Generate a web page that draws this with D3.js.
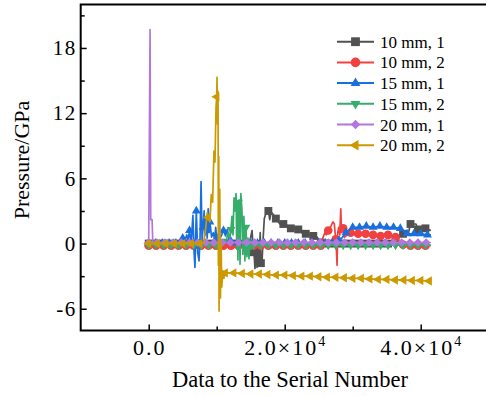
<!DOCTYPE html>
<html><head><meta charset="utf-8">
<script src="https://cdn.jsdelivr.net/npm/d3@7"></script>
<style>body{margin:0;background:#fff}svg{display:block}</style>
</head><body>
<svg id="c" width="486" height="396"></svg>
<script>
// ---------- data ----------
const seriesNames = ["10 mm, 1", "10 mm, 2", "15 mm, 1", "15 mm, 2", "20 mm, 1", "20 mm, 2"];
const seriesColors = ["#515151", "#F14040", "#1A6FDF", "#37AD6B", "#B177DE", "#CC9900"];
const markerSteps = [1100, 1100, 1000, 1100, 1200, 1250];

// base values at X = i*step (these carry the symbols)
const grayBase = [0.0,0.0,0.0,0.0,0.0,0.0,0.0,0.0,0.0,0.0,0.0,0.0,0.0,0.0,-0.8,-1.8,3.0,2.3,1.8,1.4,1.3,0.9,0.7,0.1,0.0,0.0,0.0,0.0,0.0,0.0,0.0,0.0,0.0,0.3,0.9,1.8,1.3,1.4];
const grayDetail = [[14900,0.3],[15200,1.2],[15500,-1.0],[15630,-2.3],[15800,-0.5],[15930,-2.2],[16100,0.2],[16250,-1.5],[16400,1.0],[16650,-2.0],[16800,0.2],[17000,2.3],[17250,2.8],[17400,3.0],[17800,2.2],[18000,2.9],[18300,2.7],[18500,2.5],[19300,1.8],[20300,1.7],[21600,1.4],[22500,1.0],[24750,0.6],[38200,1.0],[38900,1.8],[39300,1.8],[40200,1.5],[41500,1.2]];

const redBase = [-0.2,-0.2,-0.2,-0.2,-0.2,-0.2,-0.2,-0.2,-0.2,-0.2,-0.2,-0.2,-0.2,-0.2,-0.2,-0.2,-0.2,-0.2,-0.2,-0.2,-0.2,-0.2,-0.2,-0.2,1.2,0.4,1.4,1.0,0.9,0.9,0.8,0.7,0.8,0.6,-0.1,-0.2,-0.2,-0.2];
const redDetail = [[25600,0.5],[25900,1.0],[26100,0.8],[26800,1.6],[27100,2.0],[27300,1.8],[27600,-0.5],[27700,-2.0],[27800,1.0],[27950,1.5],[28100,0.8],[28250,3.2],[28350,1.0],[28800,0.6],[41500,-0.2]];

const blueBase = [0.05,0.05,0.05,0.05,0.05,0.5,1.2,3.0,1.5,2.0,0.5,1.2,0.3,0.05,0.05,0.05,0.05,0.05,0.05,0.05,0.05,0.05,0.05,0.05,0.05,0.05,0.05,0.05,0.3,1.0,1.5,1.5,1.6,1.5,1.6,1.5,1.5,1.4,0.9,0.9,0.9,0.8];
const blueDetail = [[4800,0.1],[5300,0.2],[5600,0.8],[5800,0.3],[6250,0.0],[6500,2.6],[6650,-0.5],[6800,-2.2],[6900,0.5],[7200,-0.8],[7400,-1.6],[7550,0.5],[7700,5.7],[7850,0.3],[8150,3.0],[8300,0.8],[8450,2.4],[8600,0.5],[8750,3.2],[8880,1.0],[9250,0.6],[9500,1.0],[9700,0.3],[9850,1.5],[10300,1.0],[10600,0.6],[11300,0.7],[11550,1.3],[11800,0.5],[28400,0.5],[41500,0.8]];

const greenBase = [-0.15,-0.15,-0.15,-0.15,-0.15,-0.15,-0.15,-0.15,-0.15,-0.15,0.2,1.3,3.8,1.5,-0.15,-0.15,-0.15,-0.15,-0.15,-0.15,-0.15,-0.15,-0.15,-0.15,-0.15,-0.15,-0.15,-0.15,-0.15,-0.15,-0.15,-0.15,-0.15,-0.15,-0.15,-0.15,-0.15,-0.15];
const greenDetail = [[11400,0.3],[11700,1.0],[11900,0.5],[12250,2.5],[12400,0.8],[12550,4.2],[12700,3.0],[12850,4.6],[12950,-0.5],[13050,3.5],[13120,-1.5],[13300,4.0],[13430,-1.9],[13550,4.6],[13720,3.0],[13850,-1.0],[14000,2.5],[14150,-1.6],[14450,-1.2],[14600,0.5],[14750,-1.4],[14900,0.3],[15050,-0.5],[15200,0.2],[41500,-0.15]];

const purpleBase = [0.1,0.1,0.1,0.1,0.1,0.1,0.1,0.1,0.1,0.1,0.1,0.1,0.1,0.1,0.1,0.1,0.1,0.1,0.1,0.1,0.1,0.1,0.1,0.1,0.1,0.1,0.1,0.1,0.1,0.1,0.1,0.1,0.1,0.1,0.1];
const purpleDetail = [[200,19.7],[300,2.2],[500,2.2],[600,0.1],[41500,0.1]];

const goldBase = [0,0,0,0,0,0,0,2.4,13.5,-2.7,-2.7,-2.75,-2.8,-2.8,-2.85,-2.9,-2.9,-2.95,-3.0,-3.0,-3.05,-3.1,-3.1,-3.15,-3.2,-3.2,-3.25,-3.3,-3.3,-3.35,-3.35,-3.4,-3.4,-3.45];
const goldDetail = [[8100,0.1],[8400,1.5],[8600,2.8],[9000,2.0],[9200,4.5],[9400,3.8],[9600,8.5],[9750,7.5],[9900,12.5],[10050,15.3],[10120,11],[10200,14],[10250,-2],[10300,8],[10350,-6.2],[10450,5],[10550,-5],[10650,0],[10750,-4],[10900,-2.5],[11050,-3.2],[41500,-3.45]];

const yMajorTicks = [-6, 0, 6, 12, 18];
const yMinorTicks = [-3, 3, 9, 15, 21];
const xMajorTicks = [0, 20000, 40000];
const xMinorTicks = [10000, 30000];
const xTickMantissa = ["0.0", "2.0", "4.0"];
const xTickExponent = [null, "4", "4"];

// ---------- layout ----------
const svg = d3.select("#c");
const FONT = "'Liberation Serif','Times New Roman',serif";
const x = d3.scaleLinear().domain([-10000, 50000]).range([80.7, 488.7]);
const y = d3.scaleLinear().domain([-8, 22]).range([330.5, 4.5]);

svg.append("rect").attr("width", 486).attr("height", 396).attr("fill", "#fff");

const bases = [grayBase, redBase, blueBase, greenBase, purpleBase, goldBase];
const details = [grayDetail, redDetail, blueDetail, greenDetail, purpleDetail, goldDetail];

function build(base, step, detail) {
  const pts = base.map((v, i) => ({ x: i * step, y: v, m: true }));
  detail.forEach(d => pts.push({ x: d[0], y: d[1], m: false }));
  pts.sort((a, b) => a.x - b.x);
  return pts;
}

// Origin-like diamond: square rotated 45 degrees
const diamond = { draw(ctx, size) { const r = Math.sqrt(size / 2); ctx.moveTo(0, -r); ctx.lineTo(r, 0); ctx.lineTo(0, r); ctx.lineTo(-r, 0); ctx.closePath(); } };

const symbolDefs = [
  { type: d3.symbolSquare, size: 62, rot: 0 },
  { type: d3.symbolCircle, size: 58, rot: 0 },
  { type: d3.symbolTriangle, size: 34, rot: 0 },
  { type: d3.symbolTriangle, size: 34, rot: 180 },
  { type: diamond, size: 36, rot: 0 },
  { type: d3.symbolTriangle, size: 38, rot: -90 }
];

const line = d3.line().x(d => x(d.x)).y(d => y(d.y));
const plot = svg.append("g");

seriesNames.forEach((name, s) => {
  const pts = build(bases[s], markerSteps[s], details[s]);
  const g = plot.append("g");
  g.append("path").datum(pts).attr("d", line)
    .attr("fill", "none").attr("stroke", seriesColors[s]).attr("stroke-width", 1.7)
    .attr("stroke-linejoin", "round");
  const sym = d3.symbol().type(symbolDefs[s].type).size(symbolDefs[s].size);
  g.selectAll("path.m").data(pts.filter(p => p.m)).enter().append("path")
    .attr("class", "m")
    .attr("d", sym)
    .attr("transform", d => `translate(${x(d.x)},${y(d.y)}) rotate(${symbolDefs[s].rot})`)
    .attr("fill", seriesColors[s]);
});

// ---------- frame & axes ----------
svg.append("rect").attr("x", x(-10000)).attr("y", y(22))
  .attr("width", x(50000) - x(-10000)).attr("height", y(-8) - y(22))
  .attr("fill", "none").attr("stroke", "#000").attr("stroke-width", 2);

const yAx = svg.append("g").attr("transform", `translate(${x(-10000)},0)`)
  .call(d3.axisLeft(y).tickValues(yMajorTicks).tickSize(-6).tickPadding(4).tickFormat(d => String(d)));
yAx.select(".domain").remove();
yAx.selectAll("line").attr("stroke-width", 1.5);
yAx.selectAll("text").attr("font-family", FONT).attr("font-size", 21).attr("letter-spacing", 1.5).attr("fill", "#000");
const yAxm = svg.append("g").attr("transform", `translate(${x(-10000)},0)`)
  .call(d3.axisLeft(y).tickValues(yMinorTicks).tickSize(-4).tickFormat(""));
yAxm.select(".domain").remove();
yAxm.selectAll("line").attr("stroke-width", 1.5);

const xAx = svg.append("g").attr("transform", `translate(0,${y(-8)})`)
  .call(d3.axisBottom(x).tickValues(xMajorTicks).tickSize(-6).tickFormat(""));
xAx.select(".domain").remove();
xAx.selectAll("line").attr("stroke-width", 1.5);
const xAxm = svg.append("g").attr("transform", `translate(0,${y(-8)})`)
  .call(d3.axisBottom(x).tickValues(xMinorTicks).tickSize(-4).tickFormat(""));
xAxm.select(".domain").remove();
xAxm.selectAll("line").attr("stroke-width", 1.5);

xMajorTicks.forEach((v, i) => {
  const t = svg.append("text").attr("x", x(v) + 1).attr("y", 355)
    .attr("text-anchor", "middle").attr("font-family", FONT).attr("font-size", 22)
    .attr("letter-spacing", 2).attr("fill", "#000");
  t.append("tspan").text(xTickMantissa[i]);
  if (xTickExponent[i]) {
    t.append("tspan").text("\u00D710");
    t.append("tspan").text(xTickExponent[i]).attr("font-size", 14).attr("dy", -9);
  }
});

// titles
svg.append("text").attr("x", 290).attr("y", 387).attr("text-anchor", "middle")
  .attr("font-family", FONT).attr("font-size", 22.5).attr("fill", "#000")
  .text("Data to the Serial Number");
svg.append("text").attr("transform", "translate(29,160) rotate(-90)").attr("text-anchor", "middle")
  .attr("font-family", FONT).attr("font-size", 22).attr("fill", "#000")
  .text("Pressure/GPa");

// legend
const leg = svg.append("g");
seriesNames.forEach((name, s) => {
  const cy = 41.7 + 20.7 * s;
  leg.append("line").attr("x1", 337).attr("x2", 374).attr("y1", cy).attr("y2", cy)
    .attr("stroke", seriesColors[s]).attr("stroke-width", 2);
  leg.append("path").attr("d", d3.symbol().type(symbolDefs[s].type).size(symbolDefs[s].size * 1.25)())
    .attr("transform", `translate(355.5,${cy}) rotate(${symbolDefs[s].rot})`)
    .attr("fill", seriesColors[s]);
  leg.append("text").attr("x", 380).attr("y", cy + 6)
    .attr("font-family", FONT).attr("font-size", 17).attr("fill", "#000").text(name);
});
</script>
</body></html>
